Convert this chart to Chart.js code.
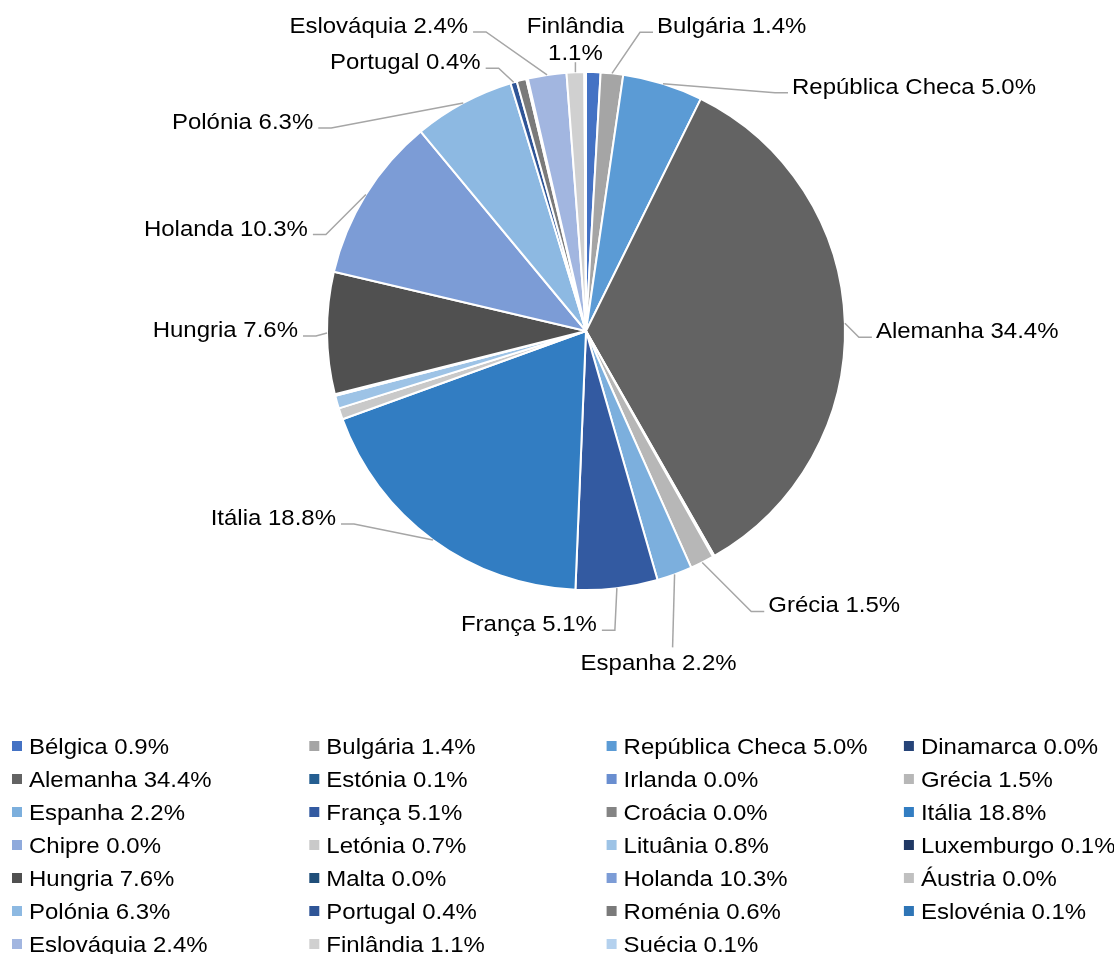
<!DOCTYPE html>
<html>
<head>
<meta charset="utf-8">
<script src="https://cdn.jsdelivr.net/npm/chart.js@4"></script>
<style>
  html, body { margin: 0; padding: 0; background: #fff; }
</style>
</head>
<body>
<canvas id="pieChart" width="1114" height="954"></canvas>
<script>
const countries = ['Bélgica', 'Bulgária', 'República Checa', 'Dinamarca', 'Alemanha', 'Estónia', 'Irlanda',
  'Grécia', 'Espanha', 'França', 'Croácia', 'Itália', 'Chipre', 'Letónia', 'Lituânia', 'Luxemburgo',
  'Hungria', 'Malta', 'Holanda', 'Áustria', 'Polónia', 'Portugal', 'Roménia', 'Eslovénia',
  'Eslováquia', 'Finlândia', 'Suécia'];
const shares = [0.9, 1.4, 5.0, 0.0, 34.4, 0.1, 0.0, 1.5, 2.2, 5.1, 0.0, 18.8, 0.0, 0.7, 0.8, 0.1,
  7.6, 0.0, 10.3, 0.0, 6.3, 0.4, 0.6, 0.1, 2.4, 1.1, 0.1];
const sliceColors = ['#4472c4', '#a5a5a5', '#5b9bd5', '#264478', '#636363', '#255e91', '#698ed0',
  '#b7b7b7', '#7cafdd', '#335aa1', '#848484', '#327dc2', '#8faadc', '#c9c9c9', '#9dc3e6', '#203864',
  '#505050', '#1f4e79', '#7c9cd6', '#c0c0c0', '#8db9e2', '#2f5597', '#7a7a7a', '#2e75b6',
  '#a2b6e0', '#d0d0d0', '#b4d1ee'];

// callouts on the pie: where the leader meets the text, relative to the slice's outer edge
const callouts = {
  'Eslováquia':      { dx: -74,  dy: -43, side: 'left' },
  'Portugal':        { dx: -28,  dy: -14, side: 'left' },
  'Polónia':         { dx: -145, dy: 25,  side: 'left' },
  'Holanda':         { dx: -53,  dy: 40,  side: 'left' },
  'Hungria':         { dx: -24,  dy: 3,   side: 'left' },
  'Itália':          { dx: -92,  dy: -16, side: 'left' },
  'França':          { dx: -15,  dy: 42,  side: 'left' },
  'Espanha':         { dx: -2,   dy: 73,  side: 'below', shift: -14 },
  'Grécia':          { dx: 62,   dy: 49,  side: 'right' },
  'Alemanha':        { dx: 27,   dy: 14,  side: 'right' },
  'República Checa': { dx: 125,  dy: 9,   side: 'right' },
  'Bulgária':        { dx: 41,   dy: -41, side: 'right' },
  'Finlândia':       { dx: 0,    dy: -10, side: 'above' }
};

const FONT = '22px "Liberation Sans", Arial, sans-serif';
const STRETCH = 1.09; // the source text is a little wider than plain Arial
const pct = v => v.toFixed(1) + '%';

function drawText(ctx, text, x, y, align) {
  ctx.save();
  ctx.translate(x, y);
  ctx.scale(STRETCH, 1);
  ctx.textAlign = align;
  ctx.fillText(text, 0, 0);
  ctx.restore();
}

const calloutPlugin = {
  id: 'callouts',
  afterDatasetsDraw(chart) {
    const ctx = chart.ctx;
    const arcs = chart.getDatasetMeta(0).data;
    ctx.save();
    ctx.font = FONT;
    ctx.strokeStyle = '#a6a6a6';
    ctx.lineWidth = 1.5;
    ctx.fillStyle = '#000';
    countries.forEach((name, i) => {
      const c = callouts[name];
      if (!c) return;
      const arc = arcs[i];
      const mid = (arc.startAngle + arc.endAngle) / 2;
      const ex = arc.x + Math.cos(mid) * arc.outerRadius;
      const ey = arc.y + Math.sin(mid) * arc.outerRadius;
      const cx = ex + c.dx, cy = ey + c.dy;

      ctx.beginPath();
      ctx.moveTo(ex, ey);
      if (c.side === 'left' || c.side === 'right') {
        const dir = c.side === 'left' ? 1 : -1;
        ctx.lineTo(cx + dir * 13, cy);
      }
      ctx.lineTo(cx, cy);
      ctx.stroke();

      const text = name + ' ' + pct(shares[i]);
      if (c.side === 'left') {
        drawText(ctx, text, cx - 5, cy + 1, 'right');
      } else if (c.side === 'right') {
        drawText(ctx, text, cx + 4, cy + 1, 'left');
      } else if (c.side === 'below') {
        drawText(ctx, text, cx + (c.shift || 0), cy + 23, 'center');
      } else {
        drawText(ctx, name, cx, cy - 29, 'center');
        drawText(ctx, pct(shares[i]), cx, cy - 2, 'center');
      }
    });
    ctx.restore();
  }
};

// legend grid below the pie, 4 columns, row by row
const legendPlugin = {
  id: 'gridLegend',
  afterDraw(chart) {
    const ctx = chart.ctx;
    ctx.save();
    ctx.font = FONT;
    countries.forEach((name, i) => {
      const x = 12 + (i % 4) * 297.3;
      const y = 746 + Math.floor(i / 4) * 33;
      ctx.fillStyle = sliceColors[i];
      ctx.fillRect(x, y - 5, 10, 10);
      ctx.fillStyle = '#000';
      drawText(ctx, name + ' ' + pct(shares[i]), x + 17, y + 8, 'left');
    });
    ctx.restore();
  }
};

new Chart(document.getElementById('pieChart'), {
  type: 'pie',
  data: {
    labels: countries,
    datasets: [{
      data: shares,
      backgroundColor: sliceColors,
      borderColor: '#fff',
      borderWidth: 2
    }]
  },
  options: {
    responsive: false,
    animation: false,
    devicePixelRatio: 1,
    layout: { padding: { left: 326, right: 268, top: 71, bottom: 363 } },
    plugins: {
      legend: { display: false },
      tooltip: { enabled: false }
    }
  },
  plugins: [calloutPlugin, legendPlugin]
});
</script>
</body>
</html>
